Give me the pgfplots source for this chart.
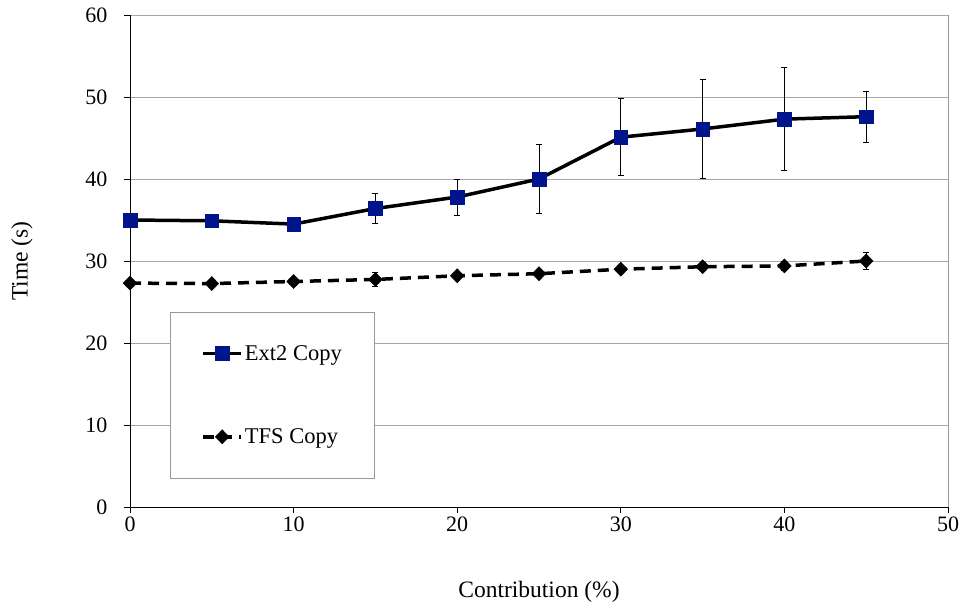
\documentclass[border=0pt]{standalone}
\usepackage{fontspec}
\setmainfont{Liberation Serif}
\usepackage{pgfplots}
\pgfplotsset{compat=1.18}
\usetikzlibrary{calc}
\definecolor{ext}{RGB}{0,20,140}
\begin{document}
\begin{tikzpicture}
\begin{axis}[
  name=ax,
  scale only axis,
  width=818bp, height=492bp,
  xmin=0, xmax=50, ymin=0, ymax=60,
  xtick={0,10,...,50}, ytick={0,10,...,60},
  axis x line*=bottom, axis y line*=left,
  axis line style={black, line width=0.8bp, -},
  tick style={black, line width=0.8bp},
  tick align=outside, major tick length=6bp,
  ymajorgrids, grid style={gray!70, line width=0.8bp},
  font=\fontsize{22bp}{26bp}\selectfont,
  tick label style={font=\fontsize{22bp}{26bp}\selectfont},
  /pgf/number format/assume math mode=true,
  xticklabel style={yshift=0bp},
  yticklabel style={xshift=-13bp},
  xlabel={Contribution (\%)}, ylabel={Time (s)},
  label style={font=\fontsize{23.5bp}{28bp}\selectfont},
  xlabel style={at={(axis description cs:0.5,0)}, anchor=center, yshift=-85bp},
  ylabel style={at={(axis description cs:-0.132,0.5)}, anchor=center},
  legend image code/.code={
    \draw[mark repeat=2, mark phase=2, #1] plot coordinates {(0bp,0bp) (19bp,0bp) (38bp,0bp)};
  },
  legend style={at={(axis cs:2.45,23.8)}, anchor=north west, draw=gray!80, line width=0.8bp, fill=white,
    font=\fontsize{22.5bp}{26bp}\selectfont, row sep=63bp, inner xsep=31bp, inner ysep=31bp,
    cells={anchor=west}},
  legend cell align=left,
  clip=false,
]
\addplot[black, line width=3.5bp, mark=square*, mark size=6.8bp,
  mark options={fill=ext, draw=ext, line width=0.5bp},
  error bars/.cd, y dir=both, y explicit,
  error bar style={black, line width=0.9bp}, error mark options={rotate=90, mark size=3bp, line width=0.9bp}]
coordinates {
(0,35.0) +- (0,0)
(5,34.9) +- (0,0)
(10,34.5) +- (0,0)
(15,36.4) +- (0,1.8)
(20,37.8) +- (0,2.2)
(25,40.0) +- (0,4.25)
(30,45.1) +- (0,4.7)
(35,46.1) +- (0,6.0)
(40,47.3) +- (0,6.3)
(45,47.6) +- (0,3.1)
};
\addlegendentry{Ext2 Copy}
\addplot[black, line width=3.5bp, dash pattern=on 11bp off 7bp, mark=diamond*, mark size=7bp,
  mark options={solid, fill=black, line width=0.5bp, xscale=1.3},
  error bars/.cd, y dir=both, y explicit,
  error bar style={black, line width=0.9bp, solid}, error mark options={rotate=90, mark size=3bp, line width=0.9bp}]
coordinates {
(0,27.3) +- (0,0)
(5,27.25) +- (0,0)
(10,27.5) +- (0,0)
(15,27.75) +- (0,0.8)
(20,28.2) +- (0,0.4)
(25,28.45) +- (0,0.5)
(30,29.0) +- (0,0.4)
(35,29.3) +- (0,0.5)
(40,29.4) +- (0,0.6)
(45,30.0) +- (0,1.0)
};
\addlegendentry{TFS Copy}
\draw[gray!80, line width=0.8bp] (rel axis cs:1,0) -- (rel axis cs:1,1);
\end{axis}
\pgfresetboundingbox
\path ($(ax.south west)+(-130bp,-96bp)$) rectangle ($(ax.north east)+(14bp,15bp)$);
\end{tikzpicture}
\end{document}
